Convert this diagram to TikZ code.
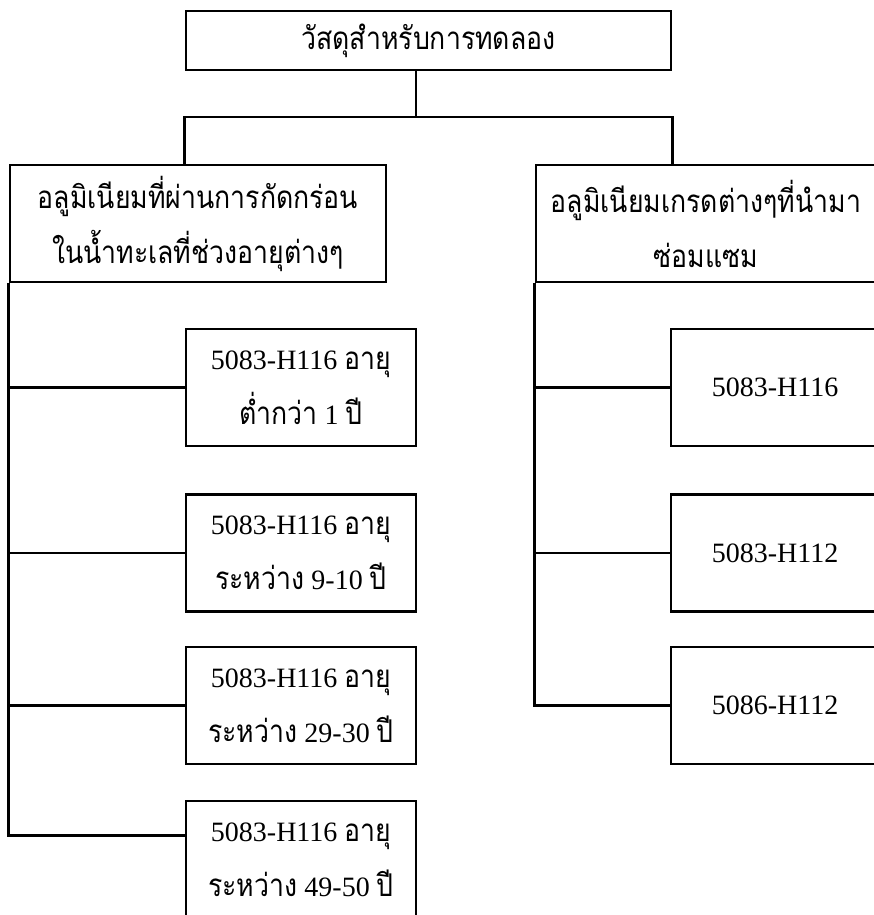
\documentclass[tikz,border=0pt]{standalone}
\usepackage{fontspec}
\setmainfont{Liberation Serif}
\newfontfamily\thaifont[Script=Thai,Scale=1.12,FakeStretch=0.85]{Loma}
\usetikzlibrary{positioning}
\newcommand{\tha}[1]{{\thaifont #1}}
\tikzset{
  blk/.style={draw, line width=2.7pt, inner sep=0pt, align=center, minimum height=117pt},
  lnk/.style={line width=2.7pt},
}

\begin{document}
\begin{tikzpicture}[x=1pt, y=-1pt, font=\fontsize{28}{55}\selectfont]
  \useasboundingbox (0,0) rectangle (873,915);
  \node[blk, minimum width=485pt, minimum height=59pt] (top) at (428.5,40.5)
     {\tha{วัสดุสำหรับการทดลอง}};
  \node[blk, minimum width=376pt] (corr) at (198,223.5)
     {\tha{อลูมิเนียมที่ผ่านการกัดกร่อน}\\\tha{ในน้ำทะเลที่ช่วงอายุต่างๆ}};
  \node[blk, minimum width=340pt] (rep) at (706,223.5)
     {\tha{อลูมิเนียมเกรดต่างๆที่นำมา}\\\tha{ซ่อมแซม}};
  \coordinate (split) at (416,117);
  \draw[lnk] (split) -- (split |- top.south);
  \draw[lnk] (top.south west |- corr.north) |- (split) -| (top.south east |- rep.north);
  % corroded plates, by age
  \foreach \t/\y [count=\i] in {\tha{ต่ำกว่า} 1 \tha{ปี}/387.5,
                                \tha{ระหว่าง} 9-10 \tha{ปี}/553,
                                \tha{ระหว่าง} 29-30 \tha{ปี}/705.5,
                                \tha{ระหว่าง} 49-50 \tha{ปี}/859.5}
     \node[blk, minimum width=230pt] (c\i) at (301,\y) {5083-H116 \tha{อายุ}\\\t};
  \foreach \i in {1,2,3}
     \draw[lnk] (corr.south west) |- (c\i.west);
  \draw[lnk] (corr.south west) |- ([yshift=-36pt]c4.north west);
  % repair grades
  \foreach \t/\y [count=\i] in {5083-H116/387.5, 5083-H112/553, 5086-H112/705.5}{
     \node[blk, minimum width=208pt] (r\i) at (775,\y) {\t};
     \draw[lnk] (rep.south west) |- (r\i.west);}
\end{tikzpicture}
\end{document}
